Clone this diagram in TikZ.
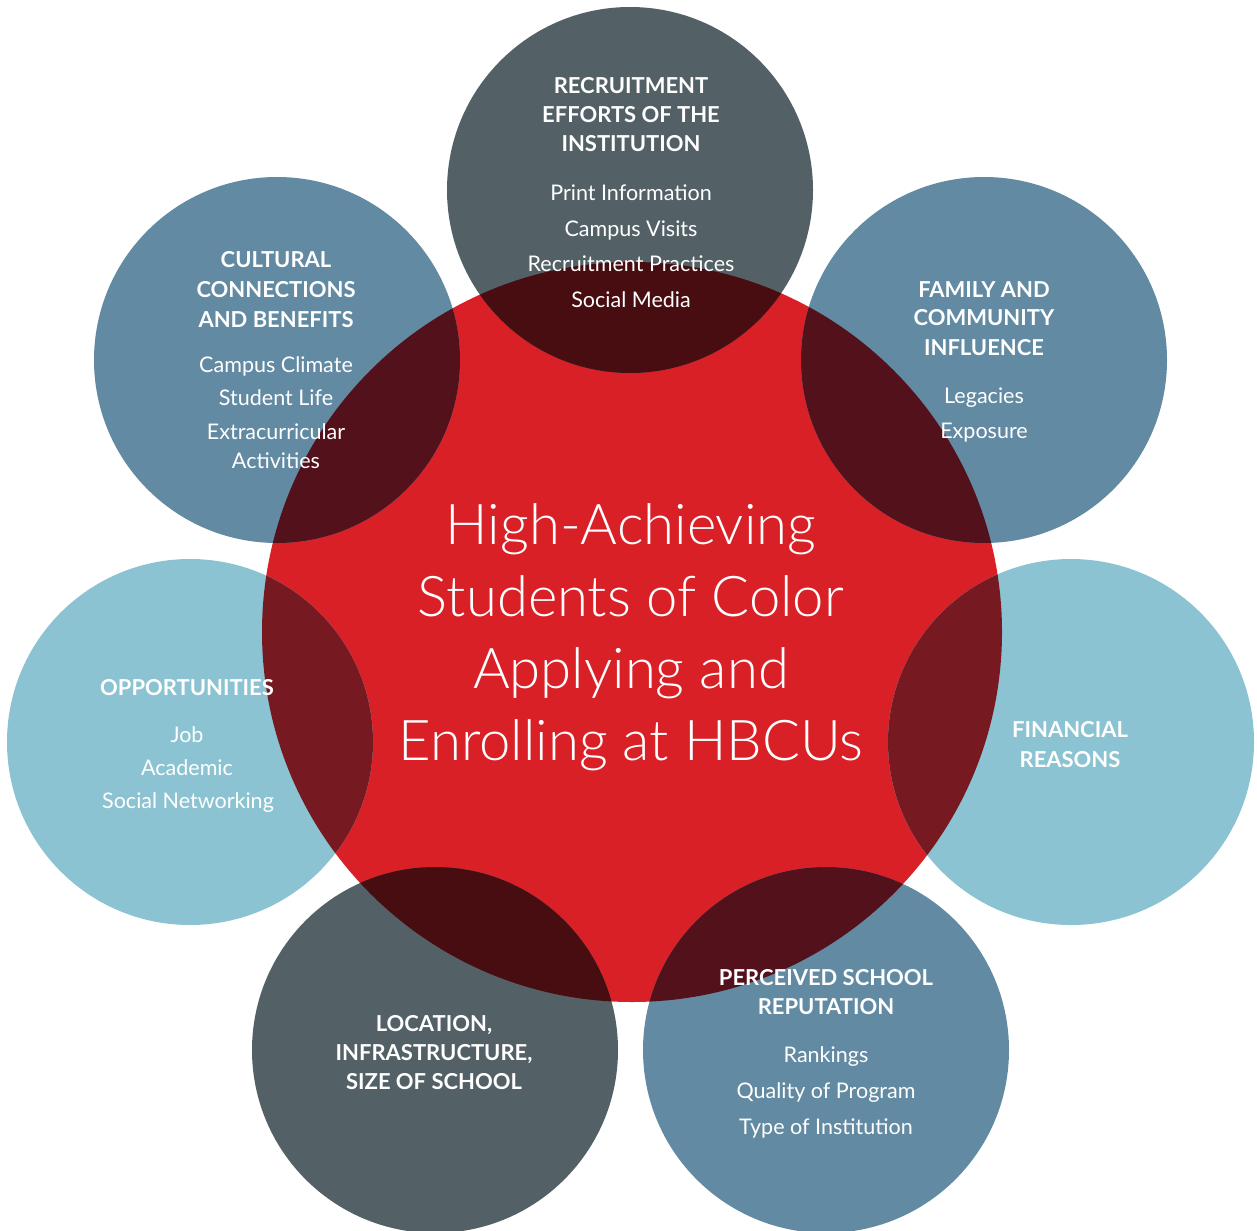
\documentclass[tikz,border=0pt]{standalone}
\usepackage{fontspec}
\setmainfont{Lato}
\newfontfamily\lightfont{Lato Light}
\definecolor{redc}{RGB}{218,32,39}
\definecolor{slate}{RGB}{83,97,103}
\definecolor{steel}{RGB}{98,138,162}
\definecolor{lblue}{RGB}{140,195,210}
\definecolor{slatered}{RGB}{71,13,17}
\definecolor{steelred}{RGB}{83,17,27}
\definecolor{lbluered}{RGB}{119,25,33}
\tikzset{
  head/.style={anchor=base, text=white, inner sep=0pt, font=\fontsize{12.5}{14}\selectfont\bfseries},
  body/.style={anchor=base, text=white, inner sep=0pt, font=\fontsize{12.25}{14}\selectfont},
  big/.style={anchor=base, text=white, inner sep=0pt, font=\fontsize{32}{36}\selectfont\lightfont},
}
\begin{document}
\begin{tikzpicture}[x=0.02cm,y=-0.02cm]
\useasboundingbox (0,0) rectangle (1257,1230);
\coordinate (cC) at (632,632);
\coordinate (cT) at (630,190);
\coordinate (cUL) at (277,360);
\coordinate (cUR) at (984,360);
\coordinate (cL) at (190,742);
\coordinate (cR) at (1071,742);
\coordinate (cBL) at (435,1050);
\coordinate (cBR) at (826,1050);
\fill[redc] (cC) circle (370);
\fill[slate] (cT) circle (183);
\fill[steel] (cUL) circle (183);
\fill[steel] (cUR) circle (183);
\fill[lblue] (cL) circle (183);
\fill[lblue] (cR) circle (183);
\fill[slate] (cBL) circle (183);
\fill[steel] (cBR) circle (183);
\begin{scope}
  \clip (cC) circle (370);
  \fill[slatered] (cT) circle (183);
  \fill[steelred] (cUL) circle (183);
  \fill[steelred] (cUR) circle (183);
  \fill[lbluered] (cL) circle (183);
  \fill[lbluered] (cR) circle (183);
  \fill[slatered] (cBL) circle (183);
  \fill[steelred] (cBR) circle (183);
\end{scope}
% top
\node[head] (t1) at (631,93) {RECRUITMENT};
\node[head] (t2) at (631,122) {EFFORTS OF THE};
\node[head] (t3) at (631,152) {INSTITUTION};
\node[body] (t4) at (631,200) {Print Information};
\node[body] (t5) at (631,236) {Campus Visits};
\node[body] (t6) at (631,271) {Recruitment Practices};
\node[body] (t7) at (631,307) {Social Media};
% upper left
\node[head] (ul1) at (276,267) {CULTURAL};
\node[head] (ul2) at (276,297) {CONNECTIONS};
\node[head] (ul3) at (276,327) {AND BENEFITS};
\node[body] (ul4) at (276,372) {Campus Climate};
\node[body] (ul5) at (276,405) {Student Life};
\node[body] (ul6) at (276,439) {Extracurricular};
\node[body] (ul7) at (276,468) {Activities};
% upper right
\node[head] (ur1) at (984,297) {FAMILY AND};
\node[head] (ur2) at (984,325) {COMMUNITY};
\node[head] (ur3) at (984,355) {INFLUENCE};
\node[body] (ur4) at (984,403) {Legacies};
\node[body] (ur5) at (984,438) {Exposure};
% left
\node[head] (l1) at (187,695) {OPPORTUNITIES};
\node[body] (l2) at (187,742) {Job};
\node[body] (l3) at (187,775) {Academic};
\node[body] (l4) at (188,808) {Social Networking};
% right
\node[head] (r1) at (1070,737) {FINANCIAL};
\node[head] (r2) at (1070,767) {REASONS};
% bottom left
\node[head] (bl1) at (434,1031) {LOCATION,};
\node[head] (bl2) at (434,1060) {INFRASTRUCTURE,};
\node[head] (bl3) at (434,1089) {SIZE OF SCHOOL};
% bottom right
\node[head] (br1) at (826,985) {PERCEIVED SCHOOL};
\node[head] (br2) at (826,1014) {REPUTATION};
\node[body] (br3) at (826,1062) {Rankings};
\node[body] (br4) at (826,1098) {Quality of Program};
\node[body] (br5) at (826,1134) {Type of Institution};
% center
\node[big] (c1) at (631,544) {High-Achieving};
\node[big] (c2) at (631,616) {Students of Color};
\node[big] (c3) at (631,688) {Applying and};
\node[big] (c4) at (631,760) {Enrolling at HBCUs};
\end{tikzpicture}
\end{document}
